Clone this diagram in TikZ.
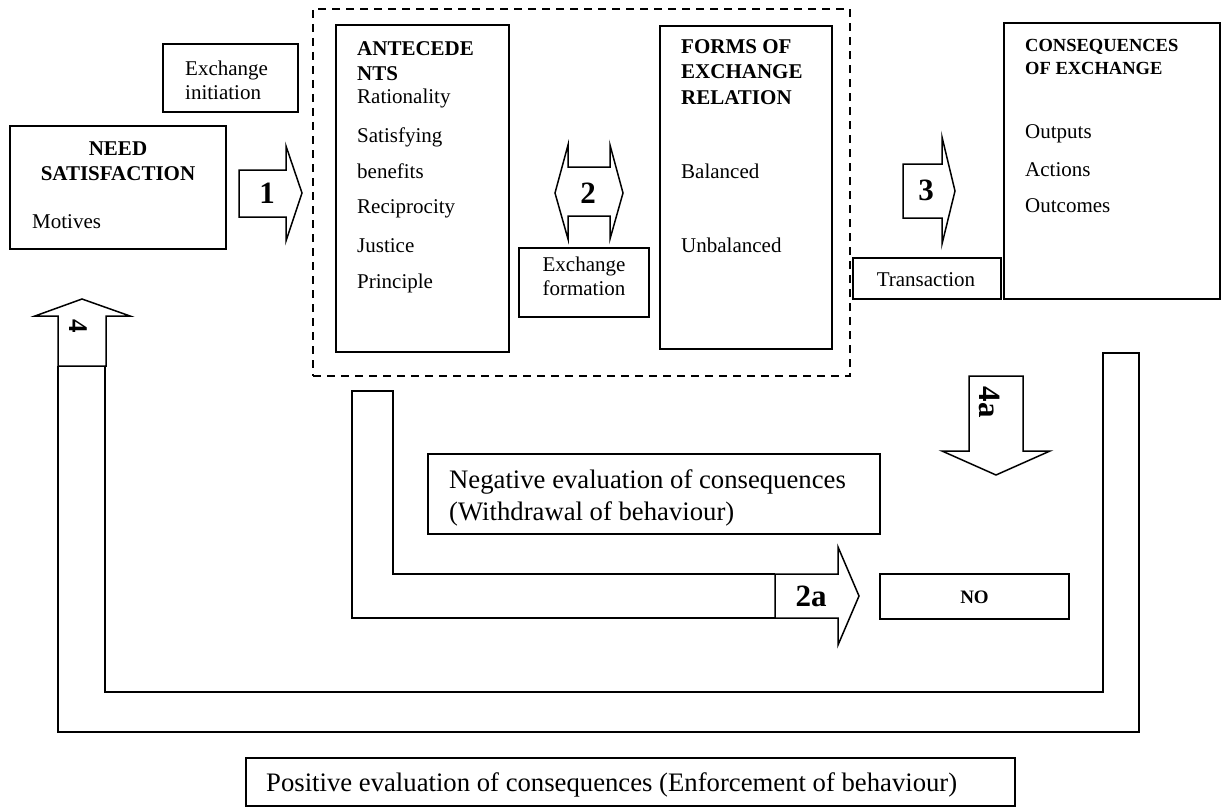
\documentclass[tikz,border=0pt]{standalone}
\usepackage{fontspec}
\setmainfont{Liberation Serif}
\begin{document}
\begin{tikzpicture}[x=1pt,y=-1pt,
  box/.style={draw, line width=1.5pt, rectangle, inner sep=0pt},
  shapeline/.style={draw, line width=1.5pt, line join=miter, fill=white},
  band/.style={draw, line width=1.5pt, line join=miter},
  grp/.style={draw, line width=1.4pt, dash pattern=on 8pt off 6pt, rectangle, inner sep=0pt},
  tx/.style={inner sep=0pt, text height=14.7pt, text depth=4.6pt, anchor=west, font=\fontsize{21}{25}\selectfont},
  tb/.style={tx, font=\fontsize{21}{25}\selectfont\bfseries},
  ts/.style={inner sep=0pt, text height=13pt, text depth=4pt, anchor=west, font=\fontsize{18.5}{22}\selectfont\bfseries},
  tl/.style={inner sep=0pt, text height=18.7pt, text depth=5.9pt, anchor=west, font=\fontsize{26.7}{32}\selectfont},
  num/.style={inner sep=0pt, font=\fontsize{31}{36}\selectfont\bfseries},
]
\fill[white] (0,0) rectangle (1226,808);
\useasboundingbox (0,0) rectangle (1226,808);

% dashed group
\node[grp, minimum width=537, minimum height=367] (grp) at (581.5,192.5) {};

% Exchange initiation
\node[box, minimum width=135, minimum height=68] (ei) at (230.5,78) {};
\node[tx] (eiA) at (185,70) {Exchange};
\node[tx] (eiB) at (185,94) {initiation};

% Need satisfaction
\node[box, minimum width=216, minimum height=123] (need) at (118,187.5) {};
\node[tb, anchor=center] (needA) at (118,150) {NEED};
\node[tb, anchor=center] (needB) at (118,175) {SATISFACTION};
\node[tx] (needC) at (32,223) {Motives};

% Antecedents
\node[box, minimum width=173, minimum height=327] (ant) at (422.5,188.5) {};
\node[tb] (antA) at (357,50) {ANTECEDE};
\node[tb] (antB) at (357,75) {NTS};
\node[tx] (antC) at (357,98) {Rationality};
\node[tx] (antD) at (357,137) {Satisfying};
\node[tx] (antE) at (357,173) {benefits};
\node[tx] (antF) at (357,208) {Reciprocity};
\node[tx] (antG) at (357,247) {Justice};
\node[tx] (antH) at (357,283) {Principle};

% Exchange formation
\node[box, minimum width=130, minimum height=69] (ef) at (584,282.5) {};
\node[tx, anchor=center] (efA) at (584,266) {Exchange};
\node[tx, anchor=center] (efB) at (584,290) {formation};

% Forms of exchange relation
\node[box, minimum width=172, minimum height=323] (forms) at (746,187.5) {};
\node[tb] (formsA) at (681,48) {FORMS OF};
\node[tb] (formsB) at (681,73) {EXCHANGE};
\node[tb] (formsC) at (681,99) {RELATION};
\node[tx] (formsD) at (681,173) {Balanced};
\node[tx] (formsE) at (681,247) {Unbalanced};

% Transaction
\node[box, minimum width=148, minimum height=41] (trans) at (927,278.5) {};
\node[tx, anchor=center] (transA) at (926,281) {Transaction};

% Consequences
\node[box, minimum width=216, minimum height=276] (cons) at (1112,161) {};
\node[ts] (consA) at (1025,47) {CONSEQUENCES};
\node[ts] (consB) at (1025,70) {OF EXCHANGE};
\node[tx] (consC) at (1025,133) {Outputs};
\node[tx] (consD) at (1025,171) {Actions};
\node[tx] (consE) at (1025,207) {Outcomes};

% Negative evaluation
\node[box, minimum width=452, minimum height=80] (neg) at (654,494) {};
\node[tl] (negA) at (449,482) {Negative evaluation of consequences};
\node[tl] (negB) at (449,514) {(Withdrawal of behaviour)};

% NO
\node[box, minimum width=189, minimum height=45] (no) at (974.5,596.5) {};
\node[inner sep=0pt, font=\fontsize{19}{22}\selectfont\bfseries] (noA) at (974.5,597) {NO};

% Positive evaluation
\node[box, minimum width=769, minimum height=48] (pos) at (630.5,782) {};
\node[tl] (posA) at (266,785) {Positive evaluation of consequences (Enforcement of behaviour)};

% U band (feedback 4)
\draw[band] (58,366) -- (58,732) -- (1139,732) -- (1139,353) -- (1103,353) -- (1103,692) -- (105,692) -- (105,366);
% L band (2a)
\draw[band] (775,618) -- (352,618) -- (352,391) -- (393,391) -- (393,574) -- (775,574);

% block arrows
\draw[shapeline] (239,170) -- (286,170) -- (286,146) -- (302,193) -- (286,241) -- (286,217) -- (239,217) -- cycle;
\draw[shapeline] (555,193) -- (568,145) -- (568,167) -- (610,167) -- (610,145) -- (623,193) -- (610,239) -- (610,216) -- (568,216) -- (568,239) -- cycle;
\draw[shapeline] (903,164) -- (942,164) -- (942,137) -- (955,191) -- (942,244) -- (942,218) -- (903,218) -- cycle;
\draw[shapeline] (775,574) -- (838,574) -- (838,547) -- (859,596) -- (838,645) -- (838,618) -- (775,618) -- cycle;
\draw[shapeline] (969,376) -- (1023,376) -- (1023,451) -- (1050,451) -- (996,475) -- (942,451) -- (969,451) -- cycle;
\draw[shapeline] (82,299) -- (130,316) -- (106,316) -- (106,366) -- (58,366) -- (58,316) -- (35,316) -- cycle;

% arrow labels
\node[num] (n1) at (267,193) {1};
\node[num] (n2) at (588,193) {2};
\node[num] (n3) at (926,190) {3};
\node[num] (n2a) at (811,596) {2a};
\node[num, rotate=-90] (n4a) at (990,402) {4a};
\node[num, rotate=-90, font=\fontsize{27}{30}\selectfont\bfseries] (n4) at (78,326) {4};
\end{tikzpicture}
\end{document}
